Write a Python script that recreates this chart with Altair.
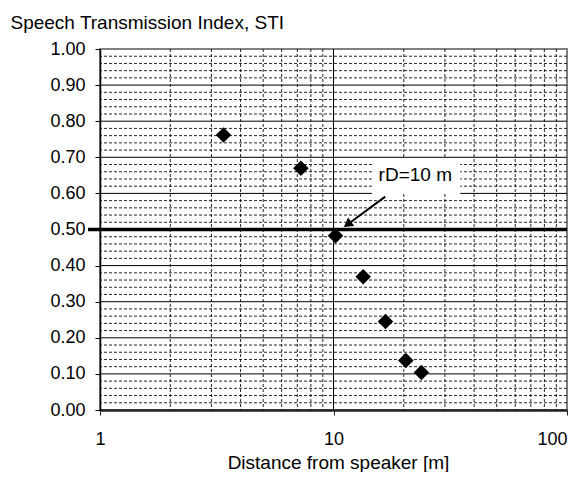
import altair as alt
import pandas as pd

# ---- data ----
distance = [3.38, 7.25, 10.2, 13.4, 16.7, 20.4, 23.8]
sti = [0.762, 0.670, 0.483, 0.369, 0.245, 0.137, 0.104]

x_ticks = [1, 10, 100]
x_major_grid = [10]
x_minor_grid = [2, 3, 4, 5, 6, 7, 8, 9, 20, 30, 40, 50, 60, 70, 80, 90]
y_ticks = [round(i * 0.1, 2) for i in range(11)]
y_major_grid = [round(i * 0.1, 2) for i in range(1, 10)]
y_minor_grid = [round(i * 0.02, 2) for i in range(1, 50) if i % 5 != 0]
threshold = [0.5]

label_text = ["rD=10 m"]
label_x = [22.4]
label_y = [0.651]
box_x = [14.6]
box_x2 = [34.9]
box_y = [0.598]
box_y2 = [0.695]
arrow_x = [16.66]
arrow_y = [0.591]
arrow_x2 = [11.48]
arrow_y2 = [0.514]
head_x = [11.48]
head_y = [0.514]

W, H = 467, 361
FONT = "Liberation Sans"

xs = alt.Scale(type="log", domain=[1, 100], nice=False)
ys = alt.Scale(domain=[0, 1], nice=False, zero=False)

xaxis = alt.Axis(
    values=x_ticks, format="d", title="Distance from speaker [m]",
    grid=False, domainColor="#222", domainWidth=2.5, tickColor="#222", tickSize=5,
    labelPadding=15, labelFontSize=18, labelFont=FONT, labelColor="#000",
    labelAlign=alt.expr("datum.value >= 100 ? 'right' : 'center'"),
    titleFont=FONT, titleFontSize=19, titleFontWeight="normal", titleColor="#000",
    titleX=238, titleY=58, titleAlign="center", titleBaseline="alphabetic",
    labelFlush=False,
)
yaxis = alt.Axis(
    values=y_ticks, format=".2f", title="Speech Transmission Index, STI",
    grid=False, domainColor="#000", domainWidth=1.5, tickColor="#000", tickSize=5,
    labelPadding=10, labelFontSize=18, labelFont=FONT, labelColor="#000",
    titleFont=FONT, titleFontSize=19, titleFontWeight="normal", titleColor="#000",
    titleAngle=0, titleX=-90, titleY=-21, titleAlign="left", titleBaseline="alphabetic",
    labelFlush=False,
)


def X(f):
    return alt.X(f, scale=xs, axis=xaxis)


def Y(f):
    return alt.Y(f, scale=ys, axis=yaxis)


pts = pd.DataFrame({"d": distance, "s": sti})

points = alt.Chart(pts).mark_point(
    shape="diamond", filled=True, color="#000", size=240, opacity=1
).encode(x=X("d:Q"), y=Y("s:Q"))

vmin = alt.Chart(pd.DataFrame({"x": x_minor_grid})).mark_rule(
    color="#000", strokeWidth=1, strokeDash=[3, 2], opacity=0.85
).encode(x=X("x:Q"))
vmaj = alt.Chart(pd.DataFrame({"x": x_major_grid})).mark_rule(
    color="#000", strokeWidth=1
).encode(x=X("x:Q"))
hmin = alt.Chart(pd.DataFrame({"y": y_minor_grid})).mark_rule(
    color="#000", strokeWidth=1, strokeDash=[3, 2], opacity=0.85
).encode(y=Y("y:Q"))
hmaj = alt.Chart(pd.DataFrame({"y": y_major_grid})).mark_rule(
    color="#000", strokeWidth=1
).encode(y=Y("y:Q"))

box = alt.Chart(pd.DataFrame({"x": box_x, "x2": box_x2, "y": box_y, "y2": box_y2})).mark_rect(
    color="white"
).encode(x=X("x:Q"), x2="x2:Q", y=Y("y:Q"), y2="y2:Q")
txt = alt.Chart(pd.DataFrame({"x": label_x, "y": label_y, "t": label_text})).mark_text(
    font=FONT, fontSize=19, color="#000", align="center", baseline="middle"
).encode(x=X("x:Q"), y=Y("y:Q"), text="t:N")
thick = alt.Chart(pd.DataFrame({"y": threshold})).mark_rule(
    color="#000", strokeWidth=3.5
).encode(y=Y("y:Q"), x=alt.value(-12), x2=alt.value(W))

arrow = alt.Chart(pd.DataFrame({"x": arrow_x, "y": arrow_y, "x2": arrow_x2, "y2": arrow_y2})).mark_rule(
    color="#000", strokeWidth=2
).encode(x=X("x:Q"), x2="x2:Q", y=Y("y:Q"), y2="y2:Q")
head = alt.Chart(pd.DataFrame({"x": head_x, "y": head_y})).mark_point(
    shape="triangle-up", filled=True, color="#000", size=110, angle=234, opacity=1
).encode(x=X("x:Q"), y=Y("y:Q"))

chart = alt.layer(vmin, vmaj, hmin, hmaj, box, txt, thick, arrow, head, points).properties(
    width=W, height=H,
    autosize="none",
    padding={"left": 92, "top": 41, "right": 9, "bottom": 62},
    background="white",
).configure_view(stroke="#808080", strokeWidth=2)

chart.save("out.html", embed_options={"renderer": "svg", "actions": False})
